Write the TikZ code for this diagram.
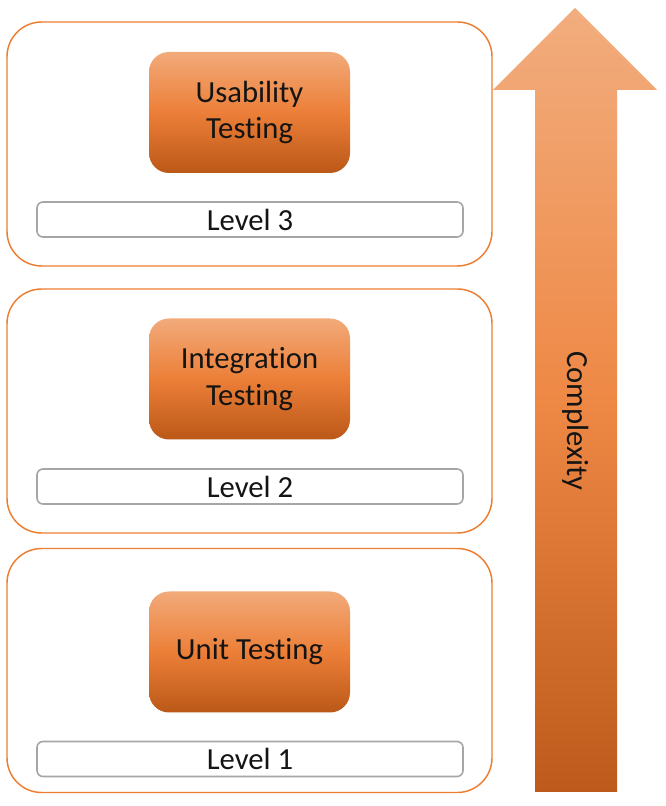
\documentclass[tikz,border=0pt]{standalone}
\usepackage{fontspec}
\setmainfont{Carlito}[Ligatures={NoCommon,NoContextual}]
\usepackage{xcolor}
\usetikzlibrary{calc}
\definecolor{frameorange}{HTML}{ED7D31}
\definecolor{boxtop}{HTML}{F2AA7A}
\definecolor{boxmid}{HTML}{EC7F38}
\definecolor{boxbot}{HTML}{BB5818}
\definecolor{arrowtop}{HTML}{F2AD7E}
\definecolor{arrowmid}{HTML}{EE8845}
\definecolor{arrowbot}{HTML}{BD5A1B}
\definecolor{bargray}{HTML}{A6A6A6}
\definecolor{ink}{HTML}{141414}
\tikzset{
  every picture/.style = {
    x=0.75pt, y=0.75pt,
    font=\fontsize{23}{27.5}\selectfont
  },
  levelframe/.style={
    draw=frameorange,
    line width=1.1pt,
    rounded corners=26pt,
    minimum width=363.75pt,
    minimum height=183pt,
    fill=white
  },
  testbox/.style={
    rounded corners=15pt,
    minimum width=150.75pt,
    minimum height=90.75pt,
    align=center,
    text=ink,
    top color=boxtop,
    bottom color=boxbot,
    middle color=boxmid
  },
  levelbar/.style={
    draw=bargray,
    line width=1.2pt,
    rounded corners=4.5pt,
    minimum width=319.5pt,
    minimum height=26.25pt,
    inner sep=0pt,
    text=ink,
    fill=white
  }
}

\begin{document}
\begin{tikzpicture}
    \useasboundingbox (0,0) rectangle (666,806);
    % levels, top to bottom
    \node[levelframe] (frame3) at (249.5,662) {};
    \node[levelframe] (frame2) at (249.5,395) {};
    \node[levelframe] (frame1) at (249.5,135.5) {};

    \node[testbox] (usability) at (249.5,693.5) {Usability\\Testing};
    \node[testbox] (integration) at (249.5,427) {Integration\\Testing};
    \node[testbox] (unit) at (249.5,154) {Unit Testing};

    \node[levelbar] (level3) at (250,586.5) {Level 3};
    \node[levelbar] (level2) at (250,319.5) {Level 2};
    \node[levelbar] (level1) at (250,47) {Level 1};

    % complexity arrow
    \shade[top color=arrowtop, bottom color=arrowbot, middle color=arrowmid]
      (535,14) -- (535,716) -- (493,716) -- (575,798) -- (657,716)
      -- (617,716) -- (617,14) -- cycle;
    \node[rotate=-90, text=ink] (complexity) at (576,385) {Complexity};
\end{tikzpicture}
\end{document}
